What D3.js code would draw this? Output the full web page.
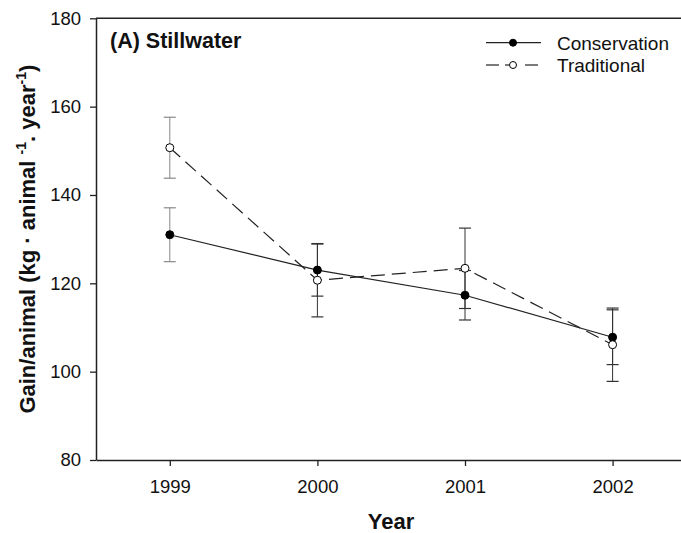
<!DOCTYPE html>
<html>
<head>
<meta charset="utf-8">
<script src="https://cdn.jsdelivr.net/npm/d3@7"></script>
<style>
  html, body { margin: 0; padding: 0; background: #fff; }
  svg { display: block; font-family: "Liberation Sans", Arial, sans-serif; }
</style>
</head>
<body>
<svg id="chart" width="681" height="533"></svg>
<script>
const years = [1999, 2000, 2001, 2002];
const conservationMean = [131.0, 123.0, 117.3, 107.8];
const conservationSE = [6.1, 5.9, 5.6, 6.2];
const traditionalMean = [150.7, 120.7, 123.4, 106.1];
const traditionalSE = [6.9, 8.3, 9.1, 8.3];
const yTicks = [80, 100, 120, 140, 160, 180];
const seriesNames = ["Conservation", "Traditional"];

const svg = d3.select("#chart");
const plotLeft = 96, plotRight = 686.4, plotTop = 18.3, plotBottom = 460;

const x = d3.scaleLinear().domain([1998.5, 2002.5]).range([plotLeft, plotRight]);
const y = d3.scaleLinear().domain([80, 180]).range([plotBottom, plotTop]);

const axisColor = "#222";

// Y axis
const yAxis = svg.append("g").attr("transform", `translate(${plotLeft},0)`)
  .call(d3.axisLeft(y).tickValues(yTicks).tickSize(6).tickSizeOuter(0).tickPadding(9));
yAxis.select(".domain").attr("stroke", axisColor).attr("stroke-width", 1.5);
yAxis.selectAll(".tick line").attr("stroke", axisColor).attr("stroke-width", 1.3);
yAxis.selectAll(".tick text").attr("font-size", 18.5).attr("fill", "#111")
  .attr("font-family", "Liberation Sans, Arial, sans-serif");

// X axis
const xAxis = svg.append("g").attr("transform", `translate(0,${plotBottom})`)
  .call(d3.axisBottom(x).tickValues(years).tickFormat(d3.format("d")).tickSize(6).tickSizeOuter(0).tickPadding(14));
xAxis.select(".domain").attr("stroke", axisColor).attr("stroke-width", 1.5);
xAxis.selectAll(".tick line").attr("stroke", axisColor).attr("stroke-width", 1.3);
xAxis.selectAll(".tick text").attr("font-size", 18.5).attr("fill", "#111")
  .attr("font-family", "Liberation Sans, Arial, sans-serif");

// Top frame line
svg.append("line").attr("x1", plotLeft).attr("x2", 681).attr("y1", plotTop).attr("y2", plotTop)
  .attr("stroke", axisColor).attr("stroke-width", 1.5);

const series = [
  { name: seriesNames[0], mean: conservationMean, se: conservationSE, dash: null, fill: "#000" },
  { name: seriesNames[1], mean: traditionalMean, se: traditionalSE, dash: "14,7", fill: "#fff" }
];

// Error bars
series.forEach(s => {
  const g = svg.append("g");
  years.forEach((yr, i) => {
    const cx = x(yr);
    const col = i === 0 ? "#888" : "#333";
    const lo = y(s.mean[i] - s.se[i]), hi = y(s.mean[i] + s.se[i]);
    g.append("line").attr("x1", cx).attr("x2", cx).attr("y1", lo).attr("y2", hi)
      .attr("stroke", col).attr("stroke-width", 1);
    [lo, hi].forEach(v => g.append("line").attr("x1", cx - 6).attr("x2", cx + 6)
      .attr("y1", v).attr("y2", v).attr("stroke", col).attr("stroke-width", 1.2));
  });
});

// Lines
const line = d3.line().x((d, i) => x(years[i])).y(d => y(d));
series.forEach(s => {
  svg.append("path").datum(s.mean).attr("d", line)
    .attr("fill", "none").attr("stroke", "#222").attr("stroke-width", 1.2)
    .attr("stroke-dasharray", s.dash);
});

// Points
series.forEach(s => {
  svg.append("g").selectAll("circle").data(s.mean).join("circle")
    .attr("cx", (d, i) => x(years[i])).attr("cy", d => y(d)).attr("r", 4)
    .attr("fill", s.fill).attr("stroke", "#000").attr("stroke-width", 1);
});

// Title
svg.append("text").attr("x", 110).attr("y", 48).attr("font-size", 21.5).attr("font-weight", "bold")
  .attr("fill", "#111").text("(A) Stillwater");

// Legend
const lg = svg.append("g");
series.forEach((s, i) => {
  const ly = 42.7 + i * 22.3;
  if (s.dash) {
    lg.append("line").attr("x1", 486).attr("x2", 499).attr("y1", ly).attr("y2", ly).attr("stroke", "#222").attr("stroke-width", 1.2);
    lg.append("line").attr("x1", 525).attr("x2", 538).attr("y1", ly).attr("y2", ly).attr("stroke", "#222").attr("stroke-width", 1.2);
    lg.append("line").attr("x1", 505).attr("x2", 509).attr("y1", ly).attr("y2", ly).attr("stroke", "#222").attr("stroke-width", 1.2);
  } else {
    lg.append("line").attr("x1", 486).attr("x2", 541).attr("y1", ly).attr("y2", ly).attr("stroke", "#222").attr("stroke-width", 1.2);
  }
  lg.append("circle").attr("cx", 513).attr("cy", ly).attr("r", 3.5)
    .attr("fill", s.fill).attr("stroke", "#000").attr("stroke-width", 1);
  lg.append("text").attr("x", 557).attr("y", ly + 7).attr("font-size", 19).attr("fill", "#111").text(s.name);
});

// Axis titles
svg.append("text").attr("x", 391).attr("y", 529).attr("text-anchor", "middle")
  .attr("font-size", 22).attr("font-weight", "bold").attr("fill", "#111").text("Year");

const yl = svg.append("text").attr("transform", `translate(35,${(plotTop + plotBottom) / 2}) rotate(-90)`)
  .attr("text-anchor", "middle").attr("font-size", 22).attr("font-weight", "bold").attr("fill", "#111");
yl.append("tspan").text("Gain/animal (kg · animal ");
yl.append("tspan").attr("font-size", 14).attr("dy", -9).text("-1");
yl.append("tspan").attr("dy", 9).text(". year");
yl.append("tspan").attr("font-size", 14).attr("dy", -9).text("-1");
yl.append("tspan").attr("dy", 9).text(")");
</script>
</body>
</html>
